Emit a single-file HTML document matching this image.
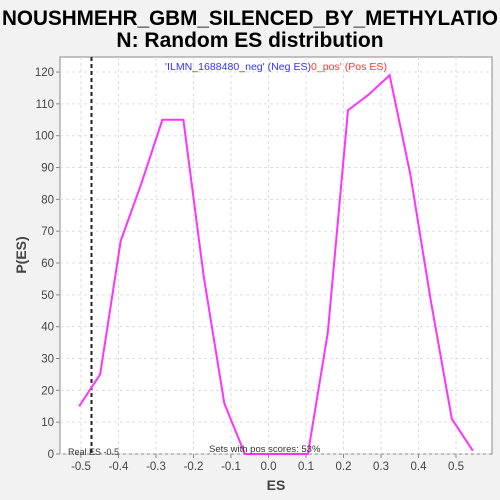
<!DOCTYPE html>
<html><head><meta charset="utf-8"><style>body{margin:0;background:#f2f2f2}svg{display:block}</style></head>
<body>
<svg width="500" height="500" xmlns="http://www.w3.org/2000/svg" font-family="Liberation Sans, DejaVu Sans, sans-serif">
<rect width="500" height="500" fill="#f2f2f2"/>
<text x="250" y="25" text-anchor="middle" font-weight="bold" font-size="21" textLength="496" lengthAdjust="spacingAndGlyphs">NOUSHMEHR_GBM_SILENCED_BY_METHYLATIO</text>
<text x="250" y="47" text-anchor="middle" font-weight="bold" font-size="21">N: Random ES distribution</text>
<rect x="60" y="57" width="432" height="397" fill="#fff" stroke="#888"/>
<g id="grid"></g>
<g id="axes"></g>
<g id="series"></g>
<text x="165" y="70" font-size="10" textLength="222" lengthAdjust="spacingAndGlyphs"><tspan fill="#3333ff">'ILMN_1688480_neg' (Neg ES)</tspan><tspan fill="#ff3333">0_pos' (Pos ES)</tspan></text>
<text x="68" y="455" font-size="9" fill="#333">Real ES -0.5</text>
<text x="209" y="452" font-size="9.5" fill="#333">Sets with pos scores: 53%</text>
<text x="276" y="490" text-anchor="middle" font-weight="bold" font-size="14" fill="#444">ES</text>
<text transform="translate(26,255) rotate(-90)" text-anchor="middle" font-weight="bold" font-size="14" fill="#444">P(ES)</text>
</svg>
<script>
const xs=[-0.505,-0.449,-0.394,-0.339,-0.283,-0.227,-0.173,-0.118,-0.063,-0.008,0.05,0.105,0.158,0.212,0.268,0.323,0.378,0.433,0.489,0.545];
const ys=[15,25,67,85,105,105,56,16,0,0,0,0,38,108,113,119,88,48,11,1];
const xTicks=[-0.5,-0.4,-0.3,-0.2,-0.1,0,0.1,0.2,0.3,0.4,0.5];
const xTickLabels=["-0.5","-0.4","-0.3","-0.2","-0.1","0.0","0.1","0.2","0.3","0.4","0.5"];
const yTicks=[0,10,20,30,40,50,60,70,80,90,100,110,120];
const realES=-0.472;
const X=v=>268.5+v*375, Y=v=>454-v*3.183;
const NS="http://www.w3.org/2000/svg";
function mk(p,t,a){const e=document.createElementNS(NS,t);for(const k in a)e.setAttribute(k,a[k]);p.appendChild(e);return e;}
const g=document.getElementById('grid'),ax=document.getElementById('axes'),s=document.getElementById('series');
xTicks.forEach((t,i)=>{
 const l=mk(g,'line',{x1:X(t),x2:X(t),y1:57,y2:454,stroke:'#ddd','stroke-dasharray':'3,3'});
 
 const k=mk(ax,'line',{x1:X(t),x2:X(t),y1:454,y2:458,stroke:'#888'});
 
 const tx=mk(ax,'text',{x:X(t),y:470,'text-anchor':'middle','font-size':11.5,fill:'#444'});tx.textContent=xTickLabels[i];
 
});
yTicks.forEach(t=>{
 const l=mk(g,'line',{x1:60,x2:492,y1:Y(t),y2:Y(t),stroke:'#ddd','stroke-dasharray':'3,3'});
 
 const k=mk(ax,'line',{x1:56,x2:60,y1:Y(t),y2:Y(t),stroke:'#888'});
 
 const tx=mk(ax,'text',{x:54,y:Y(t)+4,'text-anchor':'end','font-size':11.5,fill:'#444'});tx.textContent=t;
 
});
const rl=mk(s,'line',{x1:X(realES),x2:X(realES),y1:57,y2:454,stroke:'#222','stroke-width':2,'stroke-dasharray':'4,3'});

const pl=mk(s,'polyline',{points:xs.map((x,i)=>X(x)+','+Y(ys[i])).join(' '),fill:'none',stroke:'#ff33ff','stroke-width':2});

</script>
</body></html>
